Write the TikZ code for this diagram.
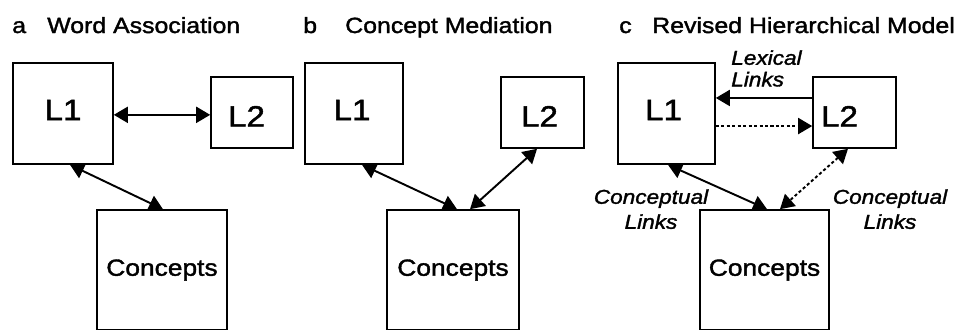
\documentclass[tikz,border=0pt]{standalone}
\usepackage{fontspec}
\setmainfont{Liberation Sans}[FakeStretch=1.13,FakeBold=1.6]
\usetikzlibrary{arrows.meta}
\begin{document}
\begin{tikzpicture}[x=0.75pt,y=-0.75pt,
  box/.style={draw, line width=1.2pt, inner sep=0pt},
  wh/.style 2 args={minimum width=#1*0.75pt, minimum height=#2*0.75pt},
  lone/.style={font=\fontsize{22}{26}\selectfont, text depth=5.25pt},
  ltwo/.style={font=\fontsize{22}{26}\selectfont, text height=21pt, text depth=0pt},
  conc/.style={font=\fontsize{17.5}{21}\selectfont},
  ttl/.style={font=\fontsize{16.5}{19}\selectfont, inner sep=0pt, anchor=base west},
  ital/.style={font=\fontsize{15}{18.75}\selectfont\itshape, inner sep=0pt},
  conn/.style={line width=1.45pt},
  dotted line/.style={dash pattern=on 2.3pt off 1.8pt},
  >={Triangle[length=10.5pt,width=12pt]}
]
\useasboundingbox (0,0) rectangle (966,329);
\clip (0,0) rectangle (966,329);

% ---------- titles
\node[ttl] (ta)  at (12,33)  {a};
\node[ttl] (tat) at (47,33)  {Word Association};
\node[ttl] (tb)  at (303,33) {b};
\node[ttl] (tbt) at (345,33) {Concept Mediation};
\node[ttl] (tc)  at (619,33) {c};
\node[ttl] (tct) at (652,33) {Revised Hierarchical Model};

% ---------- panel a
\node[box, wh={100}{101}, lone] (L1a) at (63,113.5) {L1};
\node[box, wh={82}{71}, ltwo]   (L2a) at (252,112.5) {L2\hspace*{8.25pt}};
\node[box, wh={130}{120}, conc] (Ca)  at (162,270) {Concepts};
\draw[conn,<->] ([yshift=-1pt]L1a.east) -- ([yshift=-1pt]L1a.east -| L2a.west);
\draw[conn,<->] ([xshift=5.25pt]L1a.south) -- ([xshift=0.75pt]Ca.north);

% ---------- panel b
\node[box, wh={98}{101}, lone] (L1b) at (354,113.5) {L1\hspace*{3pt}};
\node[box, wh={83}{71}, ltwo]  (L2b) at (542.5,112.5) {L2\hspace*{4.5pt}};
\node[box, wh={132}{120}, conc] (Cb) at (453,270) {Concepts};
\draw[conn,<->] ([xshift=6pt]L1b.south) -- ([xshift=3pt]Cb.north);
\draw[conn,<->] ([xshift=-4.1pt]L2b.south) -- ([xshift=12.75pt]Cb.north);

% ---------- panel c
\node[box, wh={97}{101}, lone] (L1c) at (666.5,113.5) {L1\hspace*{4.5pt}};
\node[box, wh={83}{71}, ltwo]  (L2c) at (854.5,112.5) {L2\hspace*{22.5pt}};
\node[box, wh={129}{120}, conc] (Cc) at (764.5,270) {Concepts};
\draw[conn,->] ([yshift=10.9pt]L2c.west) -- ([yshift=10.9pt]L2c.west -| L1c.east);
\draw[conn,dotted line,->] ([yshift=-9.4pt]L1c.east) -- ([yshift=-9.4pt]L1c.east -| L2c.west);
\draw[conn,<->] ([xshift=1.1pt]L1c.south) -- ([xshift=1.9pt]Cc.north);
\draw[conn,dotted line,<->] ([xshift=-4.9pt]L2c.south) -- ([xshift=11.6pt]Cc.north);

\node[ital, align=left, anchor=north west, font=\fontsize{15}{16.2}\selectfont\itshape] (lex) at (731,50) {Lexical\\Links};
\node[ital, align=center, anchor=north] (cl1) at (651,189) {Conceptual\\Links};
\node[ital, align=center, anchor=north] (cl2) at (890,189) {Conceptual\\Links};
\end{tikzpicture}
\end{document}
